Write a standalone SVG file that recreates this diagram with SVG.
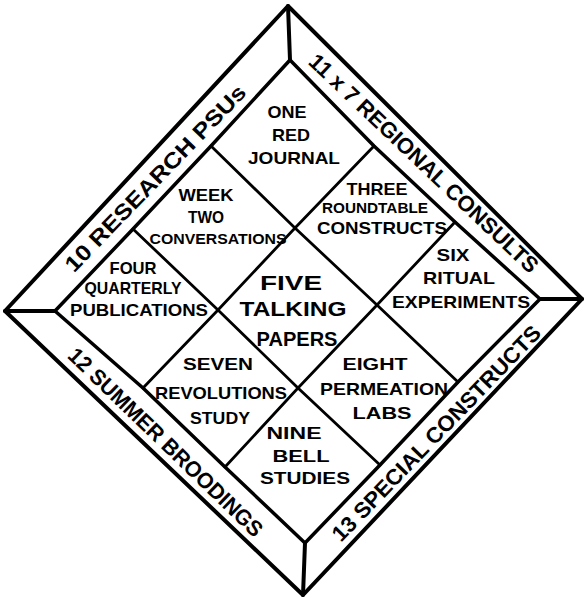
<svg xmlns="http://www.w3.org/2000/svg" width="586" height="598" viewBox="0 0 586 598">
<style>
.ln{fill:none;stroke:#000;stroke-linejoin:round;stroke-linecap:round}
.outer{stroke-width:4}
.inner{stroke-width:3.5}
.grid{stroke-width:2.8}
text{font-family:"Liberation Sans",Arial,sans-serif;font-weight:bold;fill:#000;text-anchor:middle}
.c{font-size:17px}
.cs{font-size:15.5px}
.m{font-size:20px}
.b{font-size:22px}
</style>
<rect width="586" height="598" fill="#fff"/>
<g id="connectors">
<polygon class="ln outer" points="288,6 582,299 303,595 5,311"/>
<polygon class="ln inner" points="290,60 374,146 455,222 540,299 458,382 380,465 305,543 225,467 143,388 55,311 133,229 211,146"/>
<line class="ln outer" x1="288" y1="6" x2="290" y2="60"/>
<line class="ln outer" x1="582" y1="299" x2="540" y2="299"/>
<line class="ln outer" x1="303" y1="595" x2="305" y2="543"/>
<line class="ln outer" x1="5" y1="311" x2="55" y2="311"/>
<polyline class="ln grid" points="211,146 295,228 377,305 458,382"/>
<polyline class="ln grid" points="133,229 218,310 298,388 380,465"/>
<polyline class="ln grid" points="374,146 295,228 218,310 143,388"/>
<polyline class="ln grid" points="455,222 377,305 298,388 225,467"/>
</g>
<g id="band-research">
<text class="b" transform="translate(155,178) rotate(-46)" x="0" y="8" textLength="250" lengthAdjust="spacingAndGlyphs">10 RESEARCH PSUs</text>
</g>
<g id="band-regional">
<text class="b" transform="translate(424,163) rotate(43.5)" x="0" y="8" textLength="307" lengthAdjust="spacingAndGlyphs">11 x 7 REGIONAL CONSULTS</text>
</g>
<g id="band-summer">
<text class="b" transform="translate(166,442) rotate(44)" x="0" y="8" textLength="261" lengthAdjust="spacingAndGlyphs">12 SUMMER BROODINGS</text>
</g>
<g id="band-special">
<text class="b" transform="translate(436,433) rotate(-46)" x="0" y="8" textLength="290" lengthAdjust="spacingAndGlyphs">13 SPECIAL CONSTRUCTS</text>
</g>
<g id="cell-one">
<text class="c" x="287" y="118" textLength="39" lengthAdjust="spacingAndGlyphs">ONE</text>
<text class="c" x="291" y="141" textLength="38" lengthAdjust="spacingAndGlyphs">RED</text>
<text class="c" x="294" y="164" textLength="92" lengthAdjust="spacingAndGlyphs">JOURNAL</text>
</g>
<g id="cell-two">
<text class="c" x="206" y="201" textLength="55" lengthAdjust="spacingAndGlyphs">WEEK</text>
<text class="c" x="206" y="223" textLength="36" lengthAdjust="spacingAndGlyphs">TWO</text>
<text class="cs" x="218" y="244" textLength="137" lengthAdjust="spacingAndGlyphs">CONVERSATIONS</text>
</g>
<g id="cell-three">
<text class="c" x="377" y="195" textLength="61" lengthAdjust="spacingAndGlyphs">THREE</text>
<text class="cs" x="375" y="213" textLength="106" lengthAdjust="spacingAndGlyphs">ROUNDTABLE</text>
<text class="c" x="382" y="234" textLength="130" lengthAdjust="spacingAndGlyphs">CONSTRUCTS</text>
</g>
<g id="cell-four">
<text class="c" x="133" y="274" textLength="47" lengthAdjust="spacingAndGlyphs">FOUR</text>
<text class="c" x="133" y="294" textLength="97" lengthAdjust="spacingAndGlyphs">QUARTERLY</text>
<text class="c" x="139" y="316" textLength="138" lengthAdjust="spacingAndGlyphs">PUBLICATIONS</text>
</g>
<g id="cell-five">
<text class="m" x="291" y="290" textLength="62" lengthAdjust="spacingAndGlyphs">FIVE</text>
<text class="m" x="293" y="316" textLength="107" lengthAdjust="spacingAndGlyphs">TALKING</text>
<text class="m" x="297" y="346" textLength="81" lengthAdjust="spacingAndGlyphs">PAPERS</text>
</g>
<g id="cell-six">
<text class="c" x="453" y="261" textLength="33" lengthAdjust="spacingAndGlyphs">SIX</text>
<text class="c" x="459" y="284" textLength="72" lengthAdjust="spacingAndGlyphs">RITUAL</text>
<text class="c" x="461" y="308" textLength="138" lengthAdjust="spacingAndGlyphs">EXPERIMENTS</text>
</g>
<g id="cell-seven">
<text class="c" x="218" y="370" textLength="70" lengthAdjust="spacingAndGlyphs">SEVEN</text>
<text class="c" x="221" y="399" textLength="132" lengthAdjust="spacingAndGlyphs">REVOLUTIONS</text>
<text class="c" x="220" y="424" textLength="60" lengthAdjust="spacingAndGlyphs">STUDY</text>
</g>
<g id="cell-eight">
<text class="c" x="375" y="370" textLength="65" lengthAdjust="spacingAndGlyphs">EIGHT</text>
<text class="c" x="384" y="395" textLength="128" lengthAdjust="spacingAndGlyphs">PERMEATION</text>
<text class="c" x="382" y="419" textLength="59" lengthAdjust="spacingAndGlyphs">LABS</text>
</g>
<g id="cell-nine">
<text class="c" x="294" y="439" textLength="55" lengthAdjust="spacingAndGlyphs">NINE</text>
<text class="c" x="301" y="462" textLength="57" lengthAdjust="spacingAndGlyphs">BELL</text>
<text class="c" x="305" y="484" textLength="90" lengthAdjust="spacingAndGlyphs">STUDIES</text>
</g>
</svg>
